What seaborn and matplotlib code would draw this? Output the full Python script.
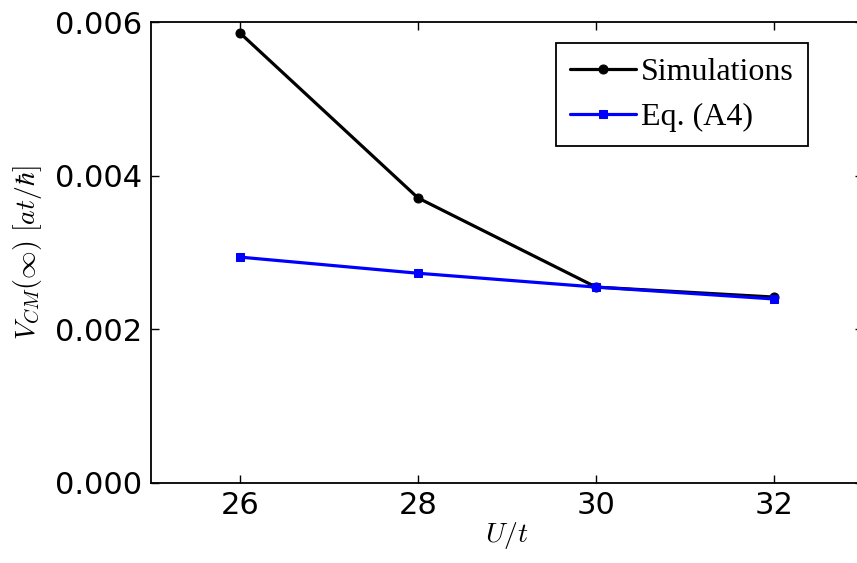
import matplotlib
matplotlib.use("Agg")
import matplotlib.pyplot as plt
import seaborn as sns
import pandas as pd

U = [26, 28, 30, 32]
sim = [0.005857, 0.00371, 0.00255, 0.00242]
eq = [0.00294, 0.00273, 0.00255, 0.002395]

sns.set_style("ticks")
plt.rcParams["mathtext.fontset"] = "cm"
plt.rcParams["font.family"] = ["DejaVu Sans"]
plt.rcParams["text.color"] = "black"
plt.rcParams["axes.labelcolor"] = "black"
plt.rcParams["xtick.color"] = "black"
plt.rcParams["ytick.color"] = "black"

fig = plt.figure(figsize=(8.57, 5.63), dpi=100)
ax = fig.add_axes([151/857, 1-483/563, (863-151)/857, (483-22)/563])

df_sim = pd.DataFrame({"U": U, "V": sim})
df_eq = pd.DataFrame({"U": U, "V": eq})
sns.lineplot(data=df_sim, x="U", y="V", ax=ax, color="black", lw=2.3,
             marker="o", markersize=6.5, markeredgecolor="black", label="Simulations")
sns.lineplot(data=df_eq, x="U", y="V", ax=ax, color="blue", lw=2.3,
             marker="s", markersize=6, markeredgecolor="blue", label="Eq. (A4)")

ax.set_xlim(25, 33)
ax.set_ylim(0, 0.006)
ax.set_xticks([26, 28, 30, 32])
ax.set_yticks([0, 0.002, 0.004, 0.006])
ax.set_yticklabels(["0.000", "0.002", "0.004", "0.006"])
ax.tick_params(direction="in", top=True, right=True, labelsize=22, length=6,
               width=1, colors="black")
ax.tick_params(axis="y", pad=6.5)
ax.tick_params(axis="x", pad=6)
for s in ax.spines.values():
    s.set_linewidth(1.3)
    s.set_color("black")
ax.set_xlabel(r"$U/t$", fontsize=20, labelpad=0)
ax.set_ylabel(r"$V_{CM}(\infty)\ [at/\hbar]$", fontsize=20, labelpad=8)

leg = ax.legend(loc="upper left", bbox_to_anchor=((556-151)/712, 1-(43-22)/461),
                frameon=True, fancybox=False, framealpha=1, edgecolor="black",
                prop={"family": "Liberation Serif", "size": 23},
                handlelength=2.05, borderpad=0.45, labelspacing=0.5, handletextpad=0.15,
                borderaxespad=0)
leg.get_frame().set_linewidth(1.3)
for t in leg.get_texts():
    t.set_color("black")

fig.savefig("out.png", dpi=100)
